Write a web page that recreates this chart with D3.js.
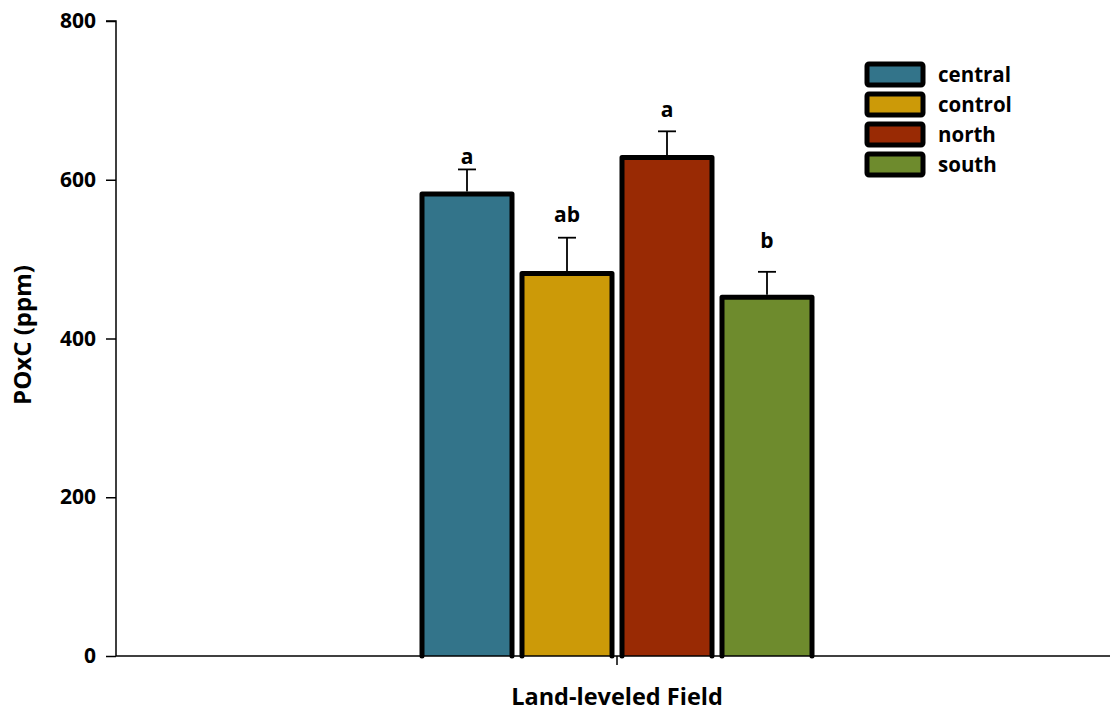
<!DOCTYPE html>
<html><head><meta charset="utf-8">
<script src="https://cdn.jsdelivr.net/npm/d3@7"></script>
<style>body{margin:0;background:#fff}text{font-family:"Open Sans",sans-serif;font-weight:bold;fill:#000}</style>
</head><body><svg id="c" width="1110" height="711"></svg>
<script>
const groups = ["Land-leveled Field"];
const series = ["central","control","north","south"];
const values = [582, 482, 628, 452];
const errors = [31, 45, 33, 32];
const letters = ["a","ab","a","b"];
const letterAt = [620, 547, 679, 514];
const colors = ["#33748A","#CC9A08","#992A04","#6E8B2D"];
const yTicks = [0,200,400,600,800];

const svg = d3.select("#c");
const y = d3.scaleLinear().domain([0,800]).range([656,21]);
const x0 = d3.scaleBand().domain(groups).range([116,1118]).padding(0);
const x1 = d3.scaleBand().domain(series).range([422,812]).paddingInner(0.1);

// y axis
const ya = svg.append("g").attr("transform","translate(116,0)")
  .call(d3.axisLeft(y).tickValues(yTicks).tickSize(10).tickPadding(10));
ya.select(".domain").attr("d","M-10,"+y(800)+"H0V"+y(0)).attr("stroke","#000").attr("stroke-width",1.5);
ya.selectAll(".tick line").attr("stroke","#000").attr("stroke-width",1.5);
ya.selectAll(".tick text").style("font-size","21px").style("font-family","'Open Sans',sans-serif").style("font-weight","bold");

// bars
const bw = x1.bandwidth();
series.forEach((s,i)=>{
  const xl = x1(s), xr = xl + bw, yt = y(values[i]), yb = y(0);
  svg.append("rect").attr("x",xl).attr("y",yt).attr("width",bw).attr("height",yb-yt).attr("fill",colors[i]);
  svg.append("path").attr("d",`M${xl},${yb}V${yt}H${xr}V${yb}`).attr("fill","none")
    .attr("stroke","#000").attr("stroke-width",5).attr("stroke-linejoin","round").attr("stroke-linecap","round");
  const cx = xl + bw/2, ye = y(values[i]+errors[i]);
  svg.append("line").attr("x1",cx).attr("x2",cx).attr("y1",yt-2.5).attr("y2",ye).attr("stroke","#000").attr("stroke-width",1.8);
  svg.append("line").attr("x1",cx-9).attr("x2",cx+9).attr("y1",ye).attr("y2",ye).attr("stroke","#000").attr("stroke-width",1.8);
  svg.append("text").attr("x",cx).attr("y",y(letterAt[i])).attr("text-anchor","middle").style("font-size","21px").text(letters[i]);
});

// x axis
const xa = svg.append("g").attr("transform","translate(0,656)")
  .call(d3.axisBottom(x0).tickSize(9).tickFormat(""));
xa.select(".domain").attr("d","M116,0H1110").attr("stroke","#000").attr("stroke-width",1.5);
xa.selectAll(".tick line").attr("stroke","#000").attr("stroke-width",1.5);
svg.append("text").attr("x",617).attr("y",705).attr("text-anchor","middle").style("font-size","23.5px").text(groups[0]);
svg.append("text").attr("transform","translate(31,335) rotate(-90)").attr("text-anchor","middle").style("font-size","24px").text("POxC (ppm)");

// legend
series.forEach((s,i)=>{
  const yy = 64 + i*30;
  svg.append("rect").attr("x",867).attr("y",yy).attr("width",56).attr("height",21).attr("rx",2)
    .attr("fill",colors[i]).attr("stroke","#000").attr("stroke-width",5);
  svg.append("text").attr("x",938).attr("y",yy+18).style("font-size","20.5px").text(s);
});
</script></body></html>
